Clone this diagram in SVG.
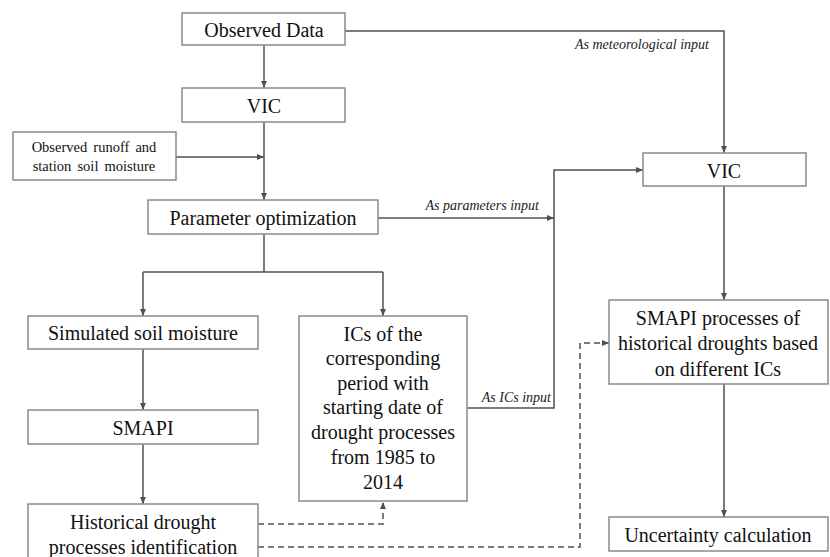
<svg xmlns="http://www.w3.org/2000/svg" width="830" height="557" viewBox="0 0 830 557" font-family="Liberation Serif, DejaVu Serif, serif">
<defs>
<marker id="ah" markerWidth="8" markerHeight="8" refX="7" refY="4" orient="auto" markerUnits="userSpaceOnUse">
<path d="M0,1 L7,4 L0,7 Z" fill="#505050"/>
</marker>
<style>
.box{fill:#fff;stroke:#8a8a8a;stroke-width:1.5}
.t{font-size:20px;fill:#111;text-anchor:middle;dominant-baseline:central}
.s{font-size:14.5px;fill:#111;text-anchor:middle;dominant-baseline:central;word-spacing:2.5px}
.lab{font-size:14px;font-style:italic;fill:#222;text-anchor:end}
.c{fill:none;stroke:#505050;stroke-width:1.5}
.d{fill:none;stroke:#505050;stroke-width:1.5;stroke-dasharray:6,4}
</style>
</defs>
<rect width="830" height="557" fill="#fff"/>
<g id="connectors">
<path class="c" d="M264,45 V88" marker-end="url(#ah)"/>
<path class="c" d="M264,122 V200" marker-end="url(#ah)"/>
<path class="c" d="M176,157 H264" marker-end="url(#ah)"/>
<path class="c" d="M264,234 V272"/>
<path class="c" d="M143,272 H383"/>
<path class="c" d="M143,272 V316" marker-end="url(#ah)"/>
<path class="c" d="M383,272 V316" marker-end="url(#ah)"/>
<path class="c" d="M143,349 V410" marker-end="url(#ah)"/>
<path class="c" d="M143,444 V504" marker-end="url(#ah)"/>
<path class="c" d="M345,31 H724 V153" marker-end="url(#ah)"/>
<path class="c" d="M378,218 H554" marker-end="url(#ah)"/>
<path class="c" d="M467,408 H554 V170 H643" marker-end="url(#ah)"/>
<path class="c" d="M724,186 V300" marker-end="url(#ah)"/>
<path class="c" d="M724,384 V517" marker-end="url(#ah)"/>
<path class="d" d="M258,524 H383 V502" marker-end="url(#ah)"/>
<path class="d" d="M258,547 H580 V343 H609" marker-end="url(#ah)"/>
<text class="lab" x="709" y="49">As meteorological input</text>
<text class="lab" x="539" y="210">As parameters input</text>
<text class="lab" x="551" y="402">As ICs input</text>
</g>
<g id="observed-data"><rect class="box" x="182" y="13" width="163" height="32"/><text class="t" x="264" y="30">Observed Data</text></g>
<g id="vic-left"><rect class="box" x="182" y="88" width="163" height="34"/><text class="t" x="264" y="106">VIC</text></g>
<g id="observed-runoff"><rect class="box" x="13" y="132" width="163" height="48"/><text class="s" x="94" y="147">Observed runoff and</text><text class="s" x="94" y="166">station soil moisture</text></g>
<g id="param-opt"><rect class="box" x="148" y="200" width="230" height="34"/><text class="t" x="263" y="218">Parameter optimization</text></g>
<g id="sim-soil"><rect class="box" x="28" y="316" width="230" height="33"/><text class="t" x="143" y="333">Simulated soil moisture</text></g>
<g id="smapi"><rect class="box" x="28" y="410" width="230" height="34"/><text class="t" x="143" y="428">SMAPI</text></g>
<g id="historical"><rect class="box" x="28" y="504" width="230" height="60"/><text class="t" x="143" y="522">Historical drought</text><text class="t" x="143" y="547">processes identification</text></g>
<g id="ics"><rect class="box" x="299" y="316" width="168" height="185"/>
<text class="t" x="383" y="334">ICs of the</text>
<text class="t" x="383" y="358">corresponding</text>
<text class="t" x="383" y="383">period with</text>
<text class="t" x="383" y="407">starting date of</text>
<text class="t" x="383" y="432">drought processes</text>
<text class="t" x="383" y="457">from 1985 to</text>
<text class="t" x="383" y="482">2014</text></g>
<g id="vic-right"><rect class="box" x="643" y="153" width="163" height="33"/><text class="t" x="724" y="171">VIC</text></g>
<g id="smapi-processes"><rect class="box" x="609" y="300" width="219" height="84"/>
<text class="t" x="718" y="318">SMAPI processes of</text>
<text class="t" x="718" y="343">historical droughts based</text>
<text class="t" x="718" y="369">on different ICs</text></g>
<g id="uncertainty"><rect class="box" x="609" y="517" width="219" height="34"/><text class="t" x="718" y="535">Uncertainty calculation</text></g>
</svg>
